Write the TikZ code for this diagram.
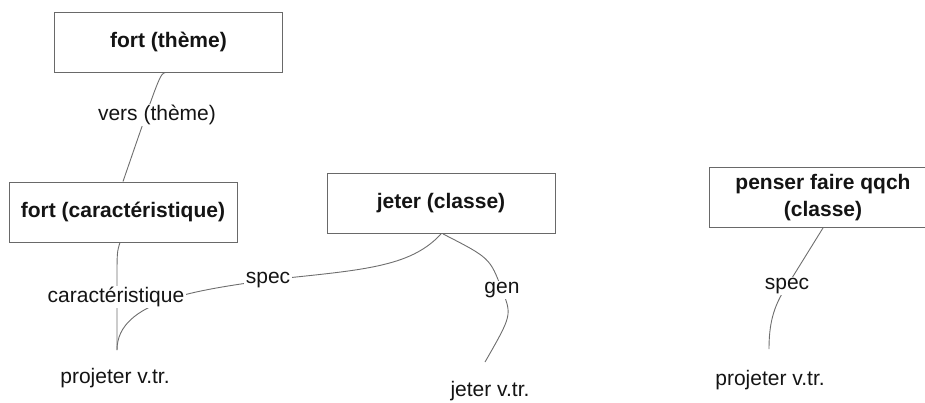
\documentclass[tikz,border=0pt]{standalone}
\usepackage{fontspec}
\setmainfont{Liberation Sans}
\definecolor{boxgray}{RGB}{105,105,105}
\definecolor{linkgray}{RGB}{110,110,110}
\definecolor{ink}{RGB}{20,20,20}
\pgfdeclarelayer{bg}
\pgfsetlayers{bg,main}
\begin{document}
\begin{tikzpicture}[x=1pt,y=-1pt,
  concept/.style={draw=boxgray, line width=0.9pt, fill=white, minimum width=228pt,
    minimum height=60pt, inner sep=0pt, align=center, text=ink,
    font=\fontsize{21}{27}\selectfont\bfseries},
  word/.style={inner sep=0pt, text=ink, font=\fontsize{21}{25}\selectfont},
  rel/.style={inner sep=1.5pt, fill=white, text=ink, font=\fontsize{21}{25}\selectfont},
  link/.style={draw=linkgray, line width=0.9pt}]
\useasboundingbox (0,0) rectangle (925,403);

% concepts
\node[concept] (ft) at (168.5,42) {fort (thème)};
\node[concept] (fc) at (123,212) {fort (caractéristique)};
\node[concept] (jc) at (441,203.5) {jeter (classe)};
\node[concept] (pf) at (823,197.5) {penser faire qqch\\(classe)};

% lexical units
\node[word] (pv1) at (115,378) {projeter v.tr.};
\node[word] (jv) at (490,391) {jeter v.tr.};
\node[word] (pv2) at (770,380) {projeter v.tr.};

% relation labels
\node[rel] (lv) at (157,115) {vers (thème)};
\node[rel] (lc) at (116,297) {caractéristique};
\node[rel] (ls) at (268,280) {spec};
\node[rel] (lg) at (502,290) {gen};
\node[rel] (ls2) at (787,286) {spec};

\begin{pgfonlayer}{bg}
  % fort (thème) -- fort (caractéristique)
  \draw[link] ([xshift=-3pt]ft.south) .. controls (160,74) .. (fc.north);
  % fort (caractéristique) -- projeter
  \draw[link] ([xshift=-3pt]fc.south) .. controls (117,252) .. (117,282)
    -- ([xshift=2pt,yshift=18pt]pv1.north);
  % jeter (classe) -- projeter (spec)
  \draw[link] (jc.south) .. controls (410,268) and (360,270) .. (ls.center)
    .. controls (200,290) and (117,300) .. ([xshift=2pt,yshift=18pt]pv1.north);
  % jeter (classe) -- jeter v.tr. (gen)
  \draw[link] ([xshift=2pt]jc.south) .. controls (490,258) .. (lg.center)
    .. controls (512,315) .. ([xshift=-5pt,yshift=19pt]jv.north);
  % penser faire qqch -- projeter (spec)
  \draw[link] (pf.south) -- (ls2.center)
    .. controls (773,306) and (769,325) .. ([xshift=-1pt,yshift=21pt]pv2.north);
\end{pgfonlayer}
\end{tikzpicture}
\end{document}
